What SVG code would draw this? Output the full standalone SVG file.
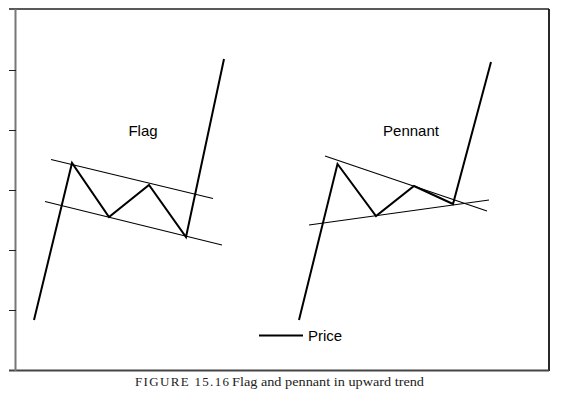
<svg xmlns="http://www.w3.org/2000/svg" width="564" height="399" viewBox="0 0 564 399">
<style>
.price{fill:none;stroke:#000;stroke-width:2;stroke-linejoin:miter}
.trend{fill:none;stroke:#000;stroke-width:1.1}
.lbl{font-family:"Liberation Sans",Arial,sans-serif;font-size:15px;fill:#000}
.cap{font-family:"Liberation Serif","Times New Roman",serif;font-size:13px;fill:#222}
</style>
<rect width="564" height="399" fill="#fff"/>
<g id="frame">
<line x1="9" y1="9" x2="549" y2="9" stroke="#222" stroke-width="1.3"/>
<line x1="549" y1="9" x2="549" y2="371" stroke="#111" stroke-width="1.8"/>
<line x1="9" y1="370.5" x2="549" y2="370.5" stroke="#444" stroke-width="2"/>
<line x1="15.5" y1="9" x2="15.5" y2="371" stroke="#777" stroke-width="2"/>
<g stroke="#222" stroke-width="1">
<line x1="9" y1="70.5" x2="16" y2="70.5"/>
<line x1="9" y1="130.5" x2="16" y2="130.5"/>
<line x1="9" y1="190.5" x2="16" y2="190.5"/>
<line x1="9" y1="250.5" x2="16" y2="250.5"/>
<line x1="9" y1="310.5" x2="16" y2="310.5"/>
</g>
</g>
<g id="flag">
<line class="trend" x1="51" y1="159.5" x2="213" y2="198.5"/>
<line class="trend" x1="45" y1="201.5" x2="222" y2="245"/>
<polyline class="price" points="34,320 72,163 109,217 149,185 186,237 224,59"/>
<text class="lbl" x="143" y="136" text-anchor="middle">Flag</text>
</g>
<g id="pennant">
<line class="trend" x1="325" y1="156" x2="487" y2="211"/>
<line class="trend" x1="309" y1="225" x2="489" y2="200"/>
<polyline class="price" points="299,320 337.5,164 376,216 414,186 453,204 491,62"/>
<text class="lbl" x="411" y="136" text-anchor="middle">Pennant</text>
</g>
<g id="legend">
<line class="price" x1="259" y1="335.5" x2="303" y2="335.5" stroke-width="1.6"/>
<text class="lbl" x="308" y="341" font-size="14">Price</text>
</g>
<g id="caption">
<text class="cap" x="135" y="386" textLength="94" lengthAdjust="spacing">FIGURE 15.16</text>
<text class="cap" x="232" y="386" textLength="192" lengthAdjust="spacingAndGlyphs">Flag and pennant in upward trend</text>
</g>
</svg>
